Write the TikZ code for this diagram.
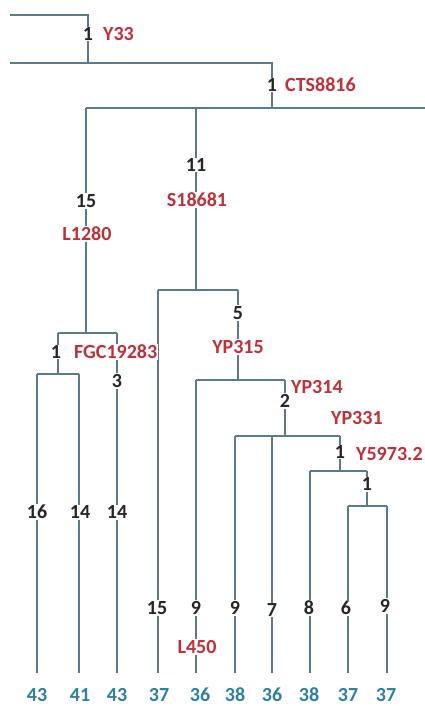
\documentclass[tikz,border=0pt]{standalone}
\usepackage{fontspec}
\setmainfont{Carlito}
\definecolor{linec}{HTML}{5C7A8E}
\definecolor{redc}{HTML}{C0303A}
\definecolor{tealc}{HTML}{2E809F}
\begin{document}
\begin{tikzpicture}[x=1pt,y=-1pt,
  br/.style={draw=linec,line width=1.7pt},
  num/.style={fill=white,inner sep=1pt,font=\fontsize{20}{20}\selectfont\bfseries,text=black!85},
  snp/.style={fill=white,inner sep=1pt,font=\fontsize{20}{20}\selectfont\bfseries,text=redc},
  snpw/.style={snp,anchor=west},
  leaf/.style={inner sep=1pt,font=\fontsize{20}{20}\selectfont\bfseries,text=tealc}]
\useasboundingbox (0,0) rectangle (425,706);
% junction coordinates
\coordinate (a0) at (10,15);
\coordinate (a1) at (88,15);
\coordinate (a2) at (88,63);
\coordinate (b0) at (10,63);
\coordinate (b1) at (272,63);
\coordinate (b2) at (272,108);
\coordinate (c0) at (86,108);
\coordinate (c1) at (425,108);
\coordinate (c2) at (196,108);
\coordinate (d0) at (86,333);
\coordinate (d1) at (58,333);
\coordinate (d2) at (117,333);
\coordinate (d3) at (58,374);
\coordinate (e0) at (37,374);
\coordinate (e1) at (79,374);
\coordinate (f0) at (196,290);
\coordinate (f1) at (158,290);
\coordinate (f2) at (238,290);
\coordinate (g0) at (238,380);
\coordinate (g1) at (196,380);
\coordinate (g2) at (285,380);
\coordinate (h0) at (285,436);
\coordinate (h1) at (235,436);
\coordinate (h2) at (340,436);
\coordinate (h3) at (272,436);
\coordinate (i0) at (340,471);
\coordinate (i1) at (310,471);
\coordinate (i2) at (367,471);
\coordinate (j0) at (367,506);
\coordinate (j1) at (348,506);
\coordinate (j2) at (387,506);
% leaf ends
\foreach \n/\x in {l1/37,l2/79,l3/117,l4/158,l5/196,l6/235,l7/272,l8/310,l9/348,l10/387}
  \coordinate (\n) at (\x,673);
% branches
\draw[br] (a0) -- (a1) -- (a2);
\draw[br] (b0) -- (b1) -- (b2);
\draw[br] (c0) -- (c1);
\draw[br] (c0) -- (d0);
\draw[br] (c2) -- (f0);
\draw[br] (d1) -- (d2);
\draw[br] (d1) -- (d3);
\draw[br] (e0) -- (e1);
\draw[br] (e0) -- (l1);
\draw[br] (e1) -- (l2);
\draw[br] (d2) -- (l3);
\draw[br] (f1) -- (f2);
\draw[br] (f1) -- (l4);
\draw[br] (f2) -- (g0);
\draw[br] (g1) -- (g2);
\draw[br] (g1) -- (l5);
\draw[br] (g2) -- (h0);
\draw[br] (h1) -- (h2);
\draw[br] (h1) -- (l6);
\draw[br] (h3) -- (l7);
\draw[br] (h2) -- (i0);
\draw[br] (i1) -- (i2);
\draw[br] (i1) -- (l8);
\draw[br] (i2) -- (j0);
\draw[br] (j1) -- (j2);
\draw[br] (j1) -- (l9);
\draw[br] (j2) -- (l10);
% labels
\node[num] (n1) at (88,34) {1};
\node[snpw] (s1) at (102,34) {Y33};
\node[num] (n2) at (272,85) {1};
\node[snpw] (s2) at (284,85) {CTS8816};
\node[num] (n3) at (196,165) {11};
\node[snp] (s3) at (197,200) {S18681};
\node[num] (n4) at (86,201) {15};
\node[snp] (s4) at (87,234) {L1280};
\node[num] (n5) at (56,352) {1};
\node[snpw] (s5) at (73,352) {FGC19283};
\node[num] (n6) at (117,381) {3};
\node[num] (n7) at (238,313) {5};
\node[snp] (s7) at (238,347) {YP315};
\node[snpw] (s8) at (290,387) {YP314};
\node[num] (n8) at (285,401) {2};
\node[snpw] (s9) at (330,418) {YP331};
\node[num] (n9) at (340,452) {1};
\node[snpw] (s10) at (355,454) {Y5973.2};
\node[num] (n10) at (367,484) {1};
\node[num] (m1) at (37,512) {16};
\node[num] (m2) at (80,512) {14};
\node[num] (m3) at (117,512) {14};
\node[num] (m4) at (157,608) {15};
\node[num] (m5) at (196,608) {9};
\node[num] (m6) at (235,608) {9};
\node[num] (m7) at (272,610) {7};
\node[num] (m8) at (309,608) {8};
\node[num] (m9) at (346,608) {6};
\node[num] (m10) at (385,606) {9};
\node[snp] (s11) at (197,647) {L450};
\foreach \n/\x/\t in {t1/37/43,t2/80/41,t3/117/43,t4/159/37,t5/200/36,t6/235/38,t7/272/36,t8/309/38,t9/348/37,t10/386/37}
  \node[leaf] (\n) at (\x,695) {\t};
\end{tikzpicture}
\end{document}
